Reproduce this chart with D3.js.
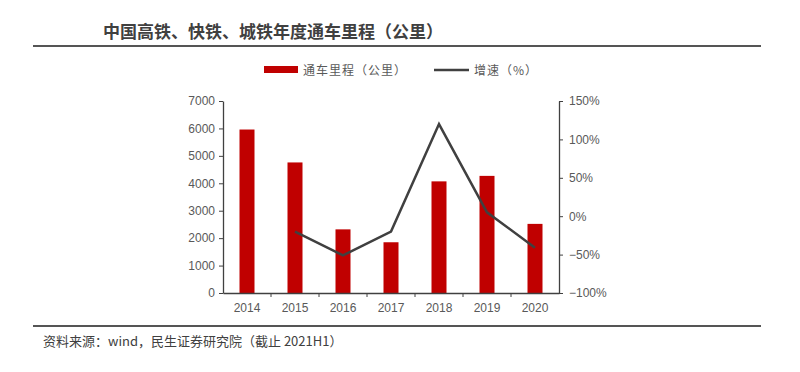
<!DOCTYPE html>
<html>
<head>
<meta charset="utf-8">
<script src="https://cdn.jsdelivr.net/npm/d3@7"></script>
<style>
  body { margin: 0; background: #fff; }
  text { font-family: "Noto Sans CJK SC", "Noto Sans", sans-serif; }
</style>
</head>
<body>
<script>
// data
var years = ["2014", "2015", "2016", "2017", "2018", "2019", "2020"];
var mileage = [5960, 4760, 2320, 1850, 4070, 4270, 2520];
var growth = [null, -20, -51, -20, 120, 5, -41];
var leftTicks = [0, 1000, 2000, 3000, 4000, 5000, 6000, 7000];
var rightTicks = [-100, -50, 0, 50, 100, 150];

var width = 800, height = 372;
var axisColor = "#404040", textColor = "#595959";

var svg = d3.select("body").append("svg")
    .attr("width", width)
    .attr("height", height);

// title + rules
svg.append("text")
    .attr("x", 103).attr("y", 38)
    .attr("font-size", 17).attr("font-weight", "bold")
    .attr("fill", "#404040")
    .text("中国高铁、快铁、城铁年度通车里程（公里）");

svg.append("line")
    .attr("x1", 33).attr("x2", 761).attr("y1", 46).attr("y2", 46)
    .attr("stroke", "#555").attr("stroke-width", 2);

svg.append("line")
    .attr("x1", 33).attr("x2", 761).attr("y1", 326).attr("y2", 326)
    .attr("stroke", "#555").attr("stroke-width", 2);

svg.append("text")
    .attr("x", 43).attr("y", 346)
    .attr("font-size", 13)
    .attr("fill", "#404040")
    .text("资料来源：wind，民生证券研究院（截止 2021H1）");

// scales
var x = d3.scaleBand().domain(years).range([223, 559]);
var yL = d3.scaleLinear().domain([0, 7000]).range([293, 101]);
var yR = d3.scaleLinear().domain([-100, 150]).range([293, 101]);

// bars
var barW = 15;
svg.selectAll(".bar").data(mileage).enter().append("rect")
    .attr("class", "bar")
    .attr("x", function(d, i) { return x(years[i]) + x.bandwidth() / 2 - barW / 2; })
    .attr("y", function(d) { return yL(d); })
    .attr("width", barW)
    .attr("height", function(d) { return yL(0) - yL(d); })
    .attr("fill", "#C00000");

// line
var lineData = growth.map(function(d, i) { return { year: years[i], v: d }; })
    .filter(function(d) { return d.v !== null; });
svg.append("path")
    .datum(lineData)
    .attr("fill", "none")
    .attr("stroke", "#404040")
    .attr("stroke-width", 2.5)
    .attr("d", d3.line()
        .x(function(d) { return x(d.year) + x.bandwidth() / 2; })
        .y(function(d) { return yR(d.v); }));

// axes
function styleAxis(g) {
  g.select(".domain").attr("stroke", axisColor).attr("stroke-width", 1.3);
  g.selectAll(".tick line").attr("stroke", axisColor);
  g.selectAll(".tick text").attr("fill", textColor)
      .style("font-size", "12px")
      .style("font-family", "Arial, 'Liberation Sans', sans-serif");
}

var gL = svg.append("g").attr("transform", "translate(223,0)")
    .call(d3.axisLeft(yL).tickValues(leftTicks).tickSize(4).tickSizeOuter(0).tickPadding(4)
        .tickFormat(d3.format("d")));
styleAxis(gL);

var gR = svg.append("g").attr("transform", "translate(559,0)")
    .call(d3.axisRight(yR).tickValues(rightTicks).tickSize(4).tickSizeOuter(0).tickPadding(6)
        .tickFormat(function(d) { return (d < 0 ? "\u2212" + Math.abs(d) : d) + "%"; }));
styleAxis(gR);

var gX = svg.append("g").attr("transform", "translate(0,293)")
    .call(d3.axisBottom(x).tickSize(0).tickPadding(10));
styleAxis(gX);
// tick marks at band boundaries
gX.selectAll(".sep").data(years.slice(1)).enter().append("line")
    .attr("x1", function(d) { return x(d); }).attr("x2", function(d) { return x(d); })
    .attr("y1", 0).attr("y2", 4)
    .attr("stroke", axisColor);

// legend
var lg = svg.append("g");
lg.append("rect").attr("x", 264).attr("y", 66).attr("width", 34).attr("height", 7).attr("fill", "#C00000");
lg.append("text").attr("x", 303).attr("y", 75).attr("font-size", 12).attr("fill", textColor)
    .attr("letter-spacing", 1).text("通车里程（公里）");
lg.append("line").attr("x1", 434).attr("x2", 469).attr("y1", 70).attr("y2", 70)
    .attr("stroke", "#404040").attr("stroke-width", 2.5);
lg.append("text").attr("x", 474).attr("y", 75).attr("font-size", 12).attr("fill", textColor)
    .attr("letter-spacing", 1).text("增速（%）");
</script>
</body>
</html>
